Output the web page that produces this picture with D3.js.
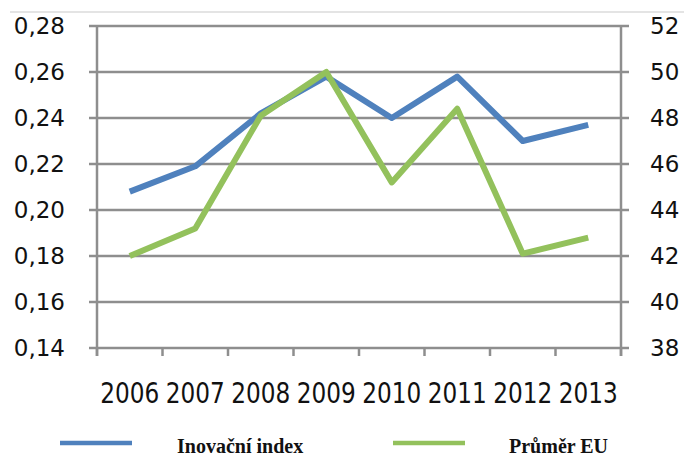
<!DOCTYPE html>
<html>
<head>
<meta charset="utf-8">
<script src="https://cdn.jsdelivr.net/npm/d3@7"></script>
<style>
  html, body { margin: 0; padding: 0; background: #fff; }
  svg { display: block; }
</style>
</head>
<body>
<svg id="chart" width="684" height="459"></svg>
<script>
// Categories and series
const years = ["2006", "2007", "2008", "2009", "2010", "2011", "2012", "2013"];
const inovacniIndex = [0.208, 0.219, 0.242, 0.258, 0.240, 0.258, 0.230, 0.237];
const prumerEU = [42.0, 43.2, 48.1, 50.0, 45.2, 48.4, 42.1, 42.8];
const leftTicks = [0.14, 0.16, 0.18, 0.20, 0.22, 0.24, 0.26, 0.28];
const rightTicks = [38, 40, 42, 44, 46, 48, 50, 52];
const seriesNames = ["Inovační index", "Průměr EU"];

const svg = d3.select("#chart");
const plot = { left: 97, right: 621, top: 26, bottom: 348 };
const tickLen = 8;
const gridColor = "#8e8e8e";
const blue = "#4f81bd";
const green = "#93c15c";

const x = d3.scaleBand().domain(years).range([plot.left, plot.right]).paddingInner(0).paddingOuter(0);
const cx = d => x(d) + x.bandwidth() / 2;
const yL = d3.scaleLinear().domain([0.14, 0.28]).range([plot.bottom, plot.top]);
const yR = d3.scaleLinear().domain([38, 52]).range([plot.bottom, plot.top]);

// thin rule at the top of the frame
svg.append("line")
  .attr("x1", 10).attr("x2", 684).attr("y1", 12).attr("y2", 12)
  .attr("stroke", "#c9c9c9").attr("stroke-width", 1.2);

// horizontal gridlines (extend through the outward ticks on both axes)
svg.append("g").selectAll("line").data(leftTicks).join("line")
  .attr("x1", plot.left - tickLen).attr("x2", plot.right + tickLen)
  .attr("y1", d => yL(d)).attr("y2", d => yL(d))
  .attr("stroke", gridColor).attr("stroke-width", 2.5);

// vertical axis lines
[plot.left, plot.right].forEach(px => {
  svg.append("line")
    .attr("x1", px).attr("x2", px)
    .attr("y1", plot.top).attr("y2", plot.bottom + tickLen)
    .attr("stroke", gridColor).attr("stroke-width", 2.5);
});

// category boundary ticks on the x axis
const boundaries = years.map(d => x(d)).concat([plot.right]);
svg.append("g").selectAll("line").data(boundaries).join("line")
  .attr("x1", d => d).attr("x2", d => d)
  .attr("y1", plot.bottom).attr("y2", plot.bottom + tickLen)
  .attr("stroke", gridColor).attr("stroke-width", 2.5);

const fmt = d => d3.format(".2f")(d).replace(".", ",");

// left axis labels
svg.append("g")
  .attr("transform", `translate(${plot.left - 32},0)`)
  .call(d3.axisLeft(yL).tickValues(leftTicks).tickFormat(fmt).tickSize(0).tickPadding(0))
  .call(g => g.select(".domain").remove())
  .selectAll("text")
  .attr("font-family", "DejaVu Sans, Verdana, sans-serif")
  .attr("font-size", 23).attr("fill", "#111");

// right axis labels
svg.append("g")
  .attr("transform", `translate(${plot.right + 29},0)`)
  .call(d3.axisRight(yR).tickValues(rightTicks).tickFormat(d3.format("d")).tickSize(0).tickPadding(0))
  .call(g => g.select(".domain").remove())
  .selectAll("text")
  .attr("font-family", "DejaVu Sans, Verdana, sans-serif")
  .attr("font-size", 23).attr("fill", "#111");

// year labels (slightly tall, condensed digits)
svg.append("g")
  .attr("transform", `translate(0,${plot.bottom + 45})`)
  .call(d3.axisBottom(x).tickSize(0).tickPadding(0))
  .call(g => g.select(".domain").remove())
  .selectAll("text")
  .attr("dy", "0.36em")
  .attr("transform", "scale(1,1.12)")
  .attr("font-family", "DejaVu Sans Condensed, DejaVu Sans, sans-serif")
  .attr("font-size", 25.8).attr("fill", "#111");

// series lines
const lineL = d3.line().x((d, i) => cx(years[i])).y(d => yL(d));
const lineR = d3.line().x((d, i) => cx(years[i])).y(d => yR(d));

svg.append("path").datum(inovacniIndex)
  .attr("d", lineL).attr("fill", "none")
  .attr("stroke", blue).attr("stroke-width", 6)
  .attr("stroke-linejoin", "round").attr("stroke-linecap", "butt");

svg.append("path").datum(prumerEU)
  .attr("d", lineR).attr("fill", "none")
  .attr("stroke", green).attr("stroke-width", 6)
  .attr("stroke-linejoin", "round").attr("stroke-linecap", "butt");

// legend
const legend = [
  { name: seriesNames[0], color: blue, x: 60, tx: 177 },
  { name: seriesNames[1], color: green, x: 393, tx: 509 }
];
const lg = svg.append("g");
legend.forEach(l => {
  lg.append("line")
    .attr("x1", l.x).attr("x2", l.x + 72).attr("y1", 443).attr("y2", 443)
    .attr("stroke", l.color).attr("stroke-width", 4.5);
  lg.append("text")
    .attr("x", l.tx).attr("y", 453)
    .attr("font-family", "Liberation Serif, Times New Roman, serif")
    .attr("font-weight", "bold").attr("font-size", 20).attr("fill", "#111")
    .text(l.name);
});
</script>
</body>
</html>
